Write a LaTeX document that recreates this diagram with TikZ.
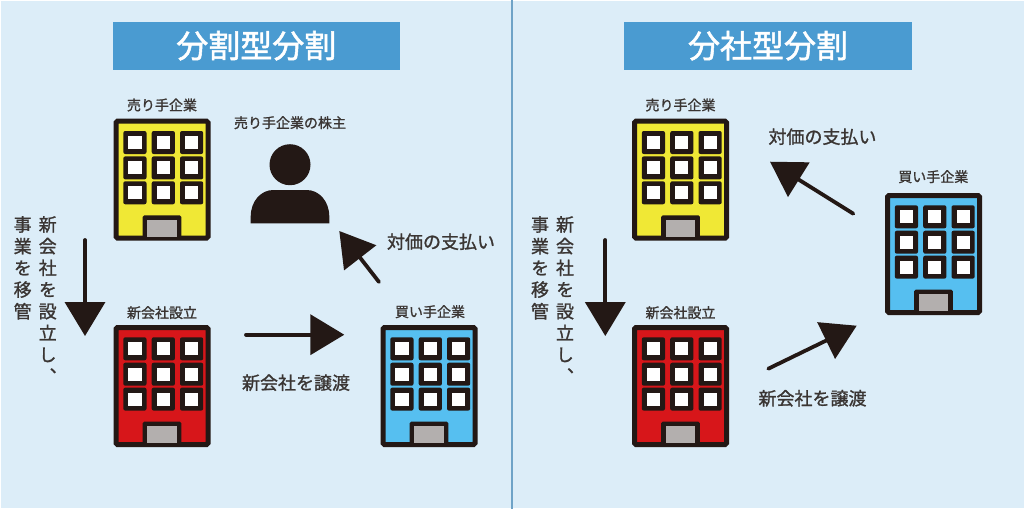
\documentclass[tikz,border=0pt]{standalone}
\usepackage{fontspec}
\usetikzlibrary{arrows.meta}
\newfontfamily\cjk[FakeBold=1.2]{Noto Sans CJK JP}
\newfontfamily\cjkt[FakeBold=1.6]{Noto Sans CJK JP}
\newfontfamily\cjkv[RawFeature=+vert,FakeBold=1.2]{Noto Sans CJK JP}
\definecolor{bgc}{HTML}{DCEDF8}
\definecolor{barc}{HTML}{4A9BD1}
\definecolor{linec}{HTML}{6FA3C7}
\definecolor{ink}{HTML}{231815}
\definecolor{txt}{HTML}{3A3533}
\definecolor{yel}{HTML}{F0E835}
\definecolor{redb}{HTML}{D7161A}
\definecolor{blub}{HTML}{56BFF0}
\definecolor{door}{HTML}{B3AFAE}
\tikzset{
  x=1pt,y=-1pt,
  titlebar/.style={fill=barc,draw=none,text=white,inner sep=0pt,minimum width=#1,minimum height=48pt,font=\cjkt\fontsize{32}{32}\selectfont},
  bldg/.style={draw=ink,line width=5pt,fill=#1,rounded corners=1.5pt,minimum width=92pt,minimum height=117pt,inner sep=0pt,anchor=north west},
  smalllabel/.style={text=txt,inner sep=0pt,font=\cjk\fontsize{14}{14}\selectfont},
  biglabel/.style={text=txt,inner sep=0pt,font=\cjk\fontsize{18}{18}\selectfont},
  vlabel/.style={text=txt,inner sep=0pt,anchor=north,align=center,font=\cjkv\fontsize{18}{21.7}\selectfont},
  flow/.style={draw=ink,fill=ink,line width=3.8pt,line cap=round,-{Triangle[length=34pt,width=40pt]}},
}
\newcommand{\bldgat}[4]{% name, x, y, colour
  \node[bldg=#4] (#1) at (#2,#3) {};
  \begin{scope}[shift={(#2,#3)}]
    \foreach \wx in {9.8,38.2,66.5}
      \foreach \wy in {12.3,37.7,62.6}{
        \fill[ink,rounded corners=2pt] (\wx,\wy) rectangle ++(23.2,23);
        \fill[white] (\wx+5,\wy+5) rectangle ++(13.2,13);
      }
    \fill[ink,rounded corners=1.5pt] (29.2,96.6) rectangle (67.8,121);
    \fill[door] (33.8,101.3) rectangle (63.2,118);
  \end{scope}
}
\begin{document}
\begin{tikzpicture}
\useasboundingbox (0,0) rectangle (1024,509);
\fill[white] (0,0) rectangle (1024,509);
\fill[bgc] (1,1) rectangle (1024,508);
\draw[linec,line width=1.5pt] (512,0) -- (512,509);

\node[titlebar=287.3pt] (t1) at (256.3,45.7) {\raisebox{-1pt}{分割型分割}};
\node[titlebar=287.4pt] (t2) at (768,45.7) {\raisebox{-1pt}{分社型分割}};

\bldgat{ya}{113.5}{118.7}{yel}
\bldgat{ra}{113.5}{325}{redb}
\bldgat{ba}{380.5}{325}{blub}
\bldgat{yb}{632}{118.7}{yel}
\bldgat{rb}{632}{325}{redb}
\bldgat{bb}{885}{193}{blub}

\node[smalllabel] (l1) at (162,105) {売り手企業};
\node[smalllabel] (l2) at (162,312.7) {新会社設立};
\node[smalllabel] (l3) at (430,311.7) {買い手企業};
\node[smalllabel] (l4) at (290,122.7) {売り手企業の株主};
\node[smalllabel] (l5) at (680.5,105) {売り手企業};
\node[smalllabel] (l6) at (680.5,312.7) {新会社設立};
\node[smalllabel] (l7) at (933.3,176.7) {買い手企業};

\node[biglabel] (m1) at (441,241.7) {対価の支払い};
\node[biglabel] (m2) at (296,382.7) {新会社を譲渡};
\node[biglabel] (m3) at (822.5,136.7) {対価の支払い};
\node[biglabel] (m4) at (812.5,398.3) {新会社を譲渡};

\node[vlabel] (v1) at (47.7,216) {新\\会\\社\\を\\設\\立\\し\\、};
\node[vlabel] (v2) at (22.7,216) {事\\業\\を\\移\\管};
\node[vlabel] (v3) at (565,216) {新\\会\\社\\を\\設\\立\\し\\、};
\node[vlabel] (v4) at (540,216) {事\\業\\を\\移\\管};

% shareholder
\node[circle,fill=ink,inner sep=0pt,minimum size=41pt] (head) at (290,164.7) {};
\fill[ink] (250.7,223.3) -- (250.7,216.7) .. controls (250.7,201) and (261,190) .. (273.3,190) -- (306.7,190) .. controls (319,190) and (329.3,201) .. (329.3,216.7) -- (329.3,223.3) -- cycle;

% arrows
\coordinate (a1s) at (85,240); \coordinate (a1e) at (85,336);
\coordinate (a2s) at (246,334.7); \coordinate (a2e) at (344.3,334.7);
\coordinate (a3s) at (379,282); \coordinate (a3e) at (339.3,231);
\coordinate (a4s) at (605.3,240); \coordinate (a4e) at (605.3,336);
\coordinate (a5s) at (853.3,213.7); \coordinate (a5e) at (770,161.7);
\coordinate (a6s) at (768.3,368.7); \coordinate (a6e) at (856.7,325.7);
\foreach \i in {1,...,6} \draw[flow] (a\i s) -- (a\i e);
\end{tikzpicture}
\end{document}
